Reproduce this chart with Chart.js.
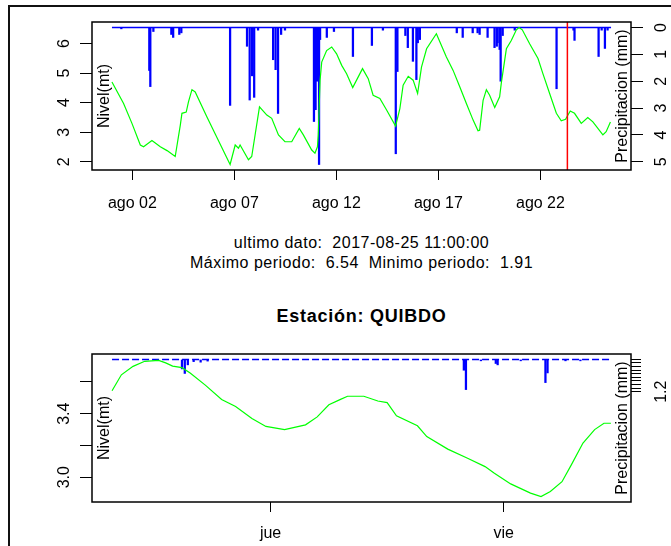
<!DOCTYPE html>
<html>
<head>
<meta charset="utf-8">
<script src="https://cdn.jsdelivr.net/npm/chart.js@4.4.0/dist/chart.umd.min.js"></script>
<style>
  body { margin: 0; background: #fff; }
  #hoja { position: relative; width: 671px; height: 546px; overflow: hidden; font-family: "Liberation Sans", Arial, sans-serif; color: #000; }
  #marco { position: absolute; left: 8px; top: 5px; width: 700px; height: 600px; border-top: 2px solid #111; border-left: 2px solid #111; }
  canvas { position: absolute; left: 0; }
  .txt { position: absolute; left: 361.5px; transform: translateX(-50%); white-space: pre; font-size: 16px; line-height: 20px; letter-spacing: 0.5px; }
  .titulo { font-weight: bold; font-size: 18px; line-height: 22px; letter-spacing: 0.75px; }
</style>
</head>
<body>
<div id="hoja">
  <div id="marco"></div>
  <canvas id="grafico1" width="671" height="230" style="top:0"></canvas>
  <div class="txt" style="top:233px">ultimo dato:  2017-08-25 11:00:00</div>
  <div class="txt" style="top:253px">Máximo periodo:  6.54  Minimo periodo:  1.91</div>
  <div class="txt titulo" style="top:305px">Estación: QUIBDO</div>
  <canvas id="grafico2" width="671" height="216" style="top:330px"></canvas>
</div>
<script>
// dias contados desde 2017-08-01 00:00
const diasNivel = [0, 0.57, 0.98, 1.39, 1.55, 1.96, 2.37, 2.70, 3.10, 3.35, 3.43, 3.64, 3.75, 3.92, 4.08, 4.65, 5.30, 5.79, 6.04, 6.20, 6.28, 6.69, 6.85, 7.23, 7.59, 7.83, 8.16, 8.48, 8.81, 9.18, 9.38, 9.79, 9.95, 10.07, 10.11, 10.20, 10.28, 10.52, 10.77, 11.01, 11.26, 11.50, 11.80, 12.28, 12.56, 12.80, 13.13, 13.46, 13.90, 14.11, 14.27, 14.52, 14.76, 14.98, 15.17, 15.42, 15.90, 16.39, 16.72, 17.05, 17.37, 17.70, 17.94, 18.02, 18.19, 18.35, 18.51, 18.76, 19.00, 19.08, 19.33, 19.57, 19.82, 19.95, 20.11, 20.47, 20.88, 21.12, 21.45, 21.78, 22.02, 22.23, 22.46, 22.67, 23.00, 23.32, 23.57, 24.06, 24.22, 24.43];
const nivel = [4.70, 3.97, 3.30, 2.57, 2.51, 2.72, 2.51, 2.38, 2.18, 3.24, 3.64, 3.68, 4.03, 4.44, 4.36, 3.52, 2.60, 1.91, 2.57, 2.46, 2.57, 2.07, 2.18, 3.86, 3.58, 3.47, 2.91, 2.68, 2.68, 3.13, 2.91, 2.40, 2.29, 2.51, 2.91, 4.76, 5.37, 5.76, 5.88, 5.65, 5.26, 4.98, 4.51, 5.15, 4.81, 4.25, 4.14, 3.75, 3.21, 3.80, 4.59, 4.89, 4.76, 4.31, 5.20, 5.82, 6.33, 5.54, 5.09, 4.53, 3.97, 3.41, 3.05, 3.07, 4.08, 4.44, 4.25, 3.84, 4.20, 4.65, 5.82, 6.10, 6.46, 6.54, 6.46, 5.99, 5.49, 4.98, 4.31, 3.64, 3.39, 3.44, 3.72, 3.64, 3.30, 3.50, 3.35, 2.91, 3.02, 3.35];

const diasLluvia = [0.46, 1.83, 1.88, 2.03, 2.91, 3.00, 3.30, 3.40, 5.79, 6.62, 6.75, 6.87, 6.97, 7.16, 7.90, 8.02, 8.14, 8.29, 8.48, 9.90, 9.98, 10.05, 10.15, 10.20, 10.53, 10.88, 11.81, 12.74, 13.28, 13.91, 13.99, 14.38, 14.50, 14.75, 14.92, 14.99, 15.09, 16.90, 17.19, 17.68, 17.92, 18.02, 18.41, 18.75, 18.86, 18.90, 19.00, 19.05, 19.15, 19.74, 21.79, 22.62, 22.67, 23.85, 24.00, 24.16, 24.29];
const lluvia = [0.05, 1.6, 2.2, 0.15, 0.26, 0.37, 0.26, 0.2, 2.9, 0.7, 2.7, 1.8, 2.6, 0.1, 1.2, 1.57, 3.2, 0.26, 0.1, 3.5, 3.06, 2.0, 5.1, 0.45, 0.37, 0.15, 1.08, 0.67, 0.1, 4.7, 1.64, 0.3, 0.75, 1.26, 1.94, 0.57, 0.45, 0.2, 0.37, 0.2, 0.2, 0.26, 0.37, 0.75, 0.7, 0.57, 0.82, 2.0, 0.3, 0.1, 2.28, 0.1, 0.48, 1.08, 0.1, 0.78, 0.1];

// ultimos dos dias (grafico de abajo)
const diasNivel2 = [22.32, 22.36, 22.41, 22.46, 22.52, 22.55, 22.58, 22.62, 22.655, 22.72, 22.79, 22.85, 22.92, 22.98, 23.06, 23.15, 23.20, 23.25, 23.30, 23.33, 23.40, 23.46, 23.50, 23.54, 23.63, 23.67, 23.76, 23.845, 23.92, 23.96, 24.03, 24.115, 24.16, 24.20, 24.25, 24.29, 24.34, 24.39, 24.43, 24.46];
const nivel2 = [3.545, 3.645, 3.698, 3.73, 3.736, 3.72, 3.70, 3.69, 3.656, 3.58, 3.49, 3.445, 3.37, 3.32, 3.30, 3.33, 3.38, 3.456, 3.49, 3.51, 3.51, 3.48, 3.47, 3.387, 3.324, 3.256, 3.177, 3.12, 3.067, 3.025, 2.958, 2.90, 2.878, 2.91, 2.972, 3.078, 3.215, 3.30, 3.34, 3.34];
const diasLluvia2 = [22.62, 22.632, 22.645, 22.67, 22.70, 22.73, 23.829, 23.838, 23.902, 23.966, 23.974, 24.073, 24.179, 24.188, 24.265, 24.329];
const lluvia2 = [0.35, 0.52, 0.2, 0.08, 0.1, 0.06, 0.4, 1.12, 0.05, 0.15, 0.2, 0.05, 0.86, 0.5, 0.05, 0.05];

const ultimoDia = 24.46;   // 2017-08-25 11:00
const inicioZoom = 22.32;  // linea roja

const ticksDia = [1, 6, 11, 16, 21];
const etiquetasDia = ['ago 02', 'ago 07', 'ago 12', 'ago 17', 'ago 22'];
const ticksDia2 = [23, 24];
const etiquetasDia2 = ['jue', 'vie'];

const ticksNivel = [2, 3, 4, 5, 6];
const etiquetasNivel = ['2', '3', '4', '5', '6'];
const ticksNivel2 = [3.0, 3.2, 3.4, 3.6];
const etiquetasNivel2 = ['3.0', '', '3.4', ''];

const ticksLluvia = [0, 1, 2, 3, 4, 5];
const etiquetasLluvia = ['0', '1', '2', '3', '4', '5'];
const ticksLluvia2 = [0, 0.13, 0.27, 0.4, 0.53, 0.67, 0.8, 0.93, 1.07, 1.2];
const etiquetasLluvia2 = ['', '', '', '', '', '', '', '', '', '1.2'];

const FUENTE = '"Liberation Sans", Arial, sans-serif';
const pares = (xs, ys) => xs.map((x, i) => ({ x: x, y: ys[i] }));

// caja, etiquetas giradas y linea roja al estilo de R
const marcoR = {
  id: 'marcoR',
  afterDraw(chart, args, o) {
    const ctx = chart.ctx, a = chart.chartArea, s = chart.scales;
    ctx.save();
    if (o.linea != null) {
      const x = s.x.getPixelForValue(o.linea);
      ctx.strokeStyle = '#ff0000';
      ctx.lineWidth = 1.5;
      ctx.beginPath(); ctx.moveTo(x, a.top); ctx.lineTo(x, a.bottom); ctx.stroke();
    }
    ctx.strokeStyle = '#000';
    ctx.lineWidth = 1.5;
    ctx.strokeRect(a.left, a.top, a.right - a.left, a.bottom - a.top);

    ctx.fillStyle = '#000';
    ctx.font = '16px ' + FUENTE;
    ctx.textAlign = 'center';
    ctx.textBaseline = 'alphabetic';
    const girado = (t, x, y) => {
      ctx.save(); ctx.translate(x, y); ctx.rotate(-Math.PI / 2); ctx.fillText(t, 0, 0); ctx.restore();
    };
    s.y.ticks.forEach(t => { if (t.label) girado(t.label, 69, s.y.getPixelForValue(t.value)); });
    s.yP.ticks.forEach(t => { if (t.label) girado(t.label, 666, s.yP.getPixelForValue(t.value)); });
    const mid = (a.top + a.bottom) / 2;
    girado('Nivel(mt)', a.left + 16.5, mid);
    girado('Precipitacion (mm)', a.right - 4.5, mid);
    ctx.restore();
  }
};

function grafico(id, c) {
  return new Chart(document.getElementById(id), {
    type: 'line',
    data: {
      datasets: [
        { data: c.nivel, yAxisID: 'y', borderColor: '#00ff00', borderWidth: 1.2, pointRadius: 0, tension: 0 },
        { data: c.cero, yAxisID: 'yP', borderColor: '#0000ff', borderWidth: 1.5, borderDash: c.guiones, pointRadius: 0 },
        { type: 'bar', data: c.lluvia, yAxisID: 'yP', backgroundColor: '#0000ff', barThickness: 1.6 }
      ]
    },
    plugins: [marcoR],
    options: {
      responsive: false,
      animation: false,
      devicePixelRatio: 1,
      layout: { padding: { top: c.arriba, left: 0, right: 0, bottom: 0 } },
      plugins: { legend: { display: false }, tooltip: { enabled: false }, marcoR: { linea: c.linea } },
      scales: {
        x: {
          type: 'linear', min: c.xMin, max: c.xMax, offset: false,
          afterBuildTicks: s => { s.ticks = c.ticksX.map(v => ({ value: v })); },
          afterFit: s => { s.height = c.altoX; },
          ticks: { callback: (v, i) => c.etiquetasX[i], color: '#000', font: { size: 16, family: FUENTE }, padding: c.sepX, maxRotation: 0, autoSkip: false },
          grid: { offset: false, drawOnChartArea: false, drawTicks: true, tickLength: 10, color: '#000' },
          border: { display: false }
        },
        y: {
          position: 'left', min: c.yMin, max: c.yMax,
          afterBuildTicks: s => { s.ticks = c.ticksY.map(v => ({ value: v })); },
          afterFit: s => { s.width = 92; },
          ticks: { callback: (v, i) => c.etiquetasY[i], color: 'rgba(0,0,0,0)', autoSkip: false },
          grid: { drawOnChartArea: false, drawTicks: true, tickLength: 12, color: '#000' },
          border: { display: false }
        },
        yP: {
          position: 'right', reverse: true, min: -0.204, max: 5.304,
          afterBuildTicks: s => { s.ticks = c.ticksP.map(v => ({ value: v })); },
          afterFit: s => { s.width = 40; },
          ticks: { callback: (v, i) => c.etiquetasP[i], color: 'rgba(0,0,0,0)', autoSkip: false },
          grid: { drawOnChartArea: false, drawTicks: true, tickLength: c.largoP, color: '#000' },
          border: { display: false }
        }
      }
    }
  });
}

grafico('grafico1', {
  nivel: pares(diasNivel, nivel),
  lluvia: pares(diasLluvia, lluvia),
  cero: [{ x: diasNivel[0], y: 0 }, { x: ultimoDia, y: 0 }],
  guiones: [],
  linea: inicioZoom,
  arriba: 22, altoX: 60, sepX: 14,
  xMin: -0.978, xMax: 25.438, ticksX: ticksDia, etiquetasX: etiquetasDia,
  yMin: 1.725, yMax: 6.725, ticksY: ticksNivel, etiquetasY: etiquetasNivel,
  ticksP: ticksLluvia, etiquetasP: etiquetasLluvia, largoP: 12
});

grafico('grafico2', {
  nivel: pares(diasNivel2, nivel2),
  lluvia: pares(diasLluvia2, lluvia2),
  cero: [{ x: diasNivel2[0], y: 0 }, { x: ultimoDia, y: 0 }],
  guiones: [7, 3],
  linea: null,
  arriba: 24, altoX: 44, sepX: 12,
  xMin: 22.234, xMax: 24.546, ticksX: ticksDia2, etiquetasX: etiquetasDia2,
  yMin: 2.844, yMax: 3.776, ticksY: ticksNivel2, etiquetasY: etiquetasNivel2,
  ticksP: ticksLluvia2, etiquetasP: etiquetasLluvia2, largoP: 10
});
</script>
</body>
</html>
